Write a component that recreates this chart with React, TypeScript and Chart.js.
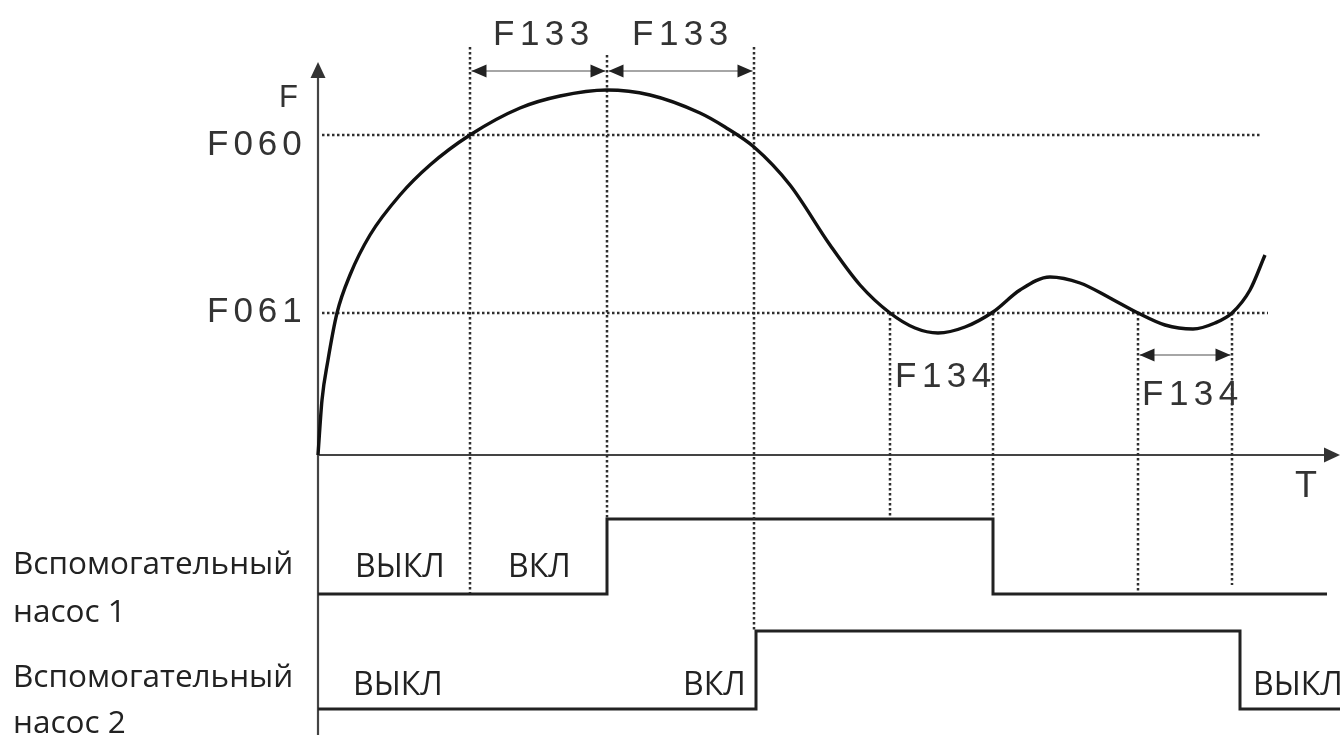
import React, { useEffect, useRef } from 'react';
import { Chart, registerables } from 'chart.js';
Chart.register(...registerables);

// Frequency curve F(T) (arbitrary units)
const curveT = [0, 0.4, 1.0, 1.9, 3.2, 5.2, 8.2, 11.2, 15.2, 20.2, 24.2, 28.9, 33.2, 38.2, 40.7, 43.6, 47.2, 51.2, 54.2, 57.2, 59.7, 62.0, 64.7, 67.5, 70.2, 73.2, 76.2, 79.2, 82.0, 84.7, 87.5, 89.7, 91.4, 93.2, 94.7];
const curveF = [0, 13.75, 23.75, 35.5, 45, 55, 65, 72.5, 80, 86.75, 89.75, 91.25, 90, 85.5, 82, 77, 67.5, 52.5, 42.5, 35.5, 31.75, 30.5, 32, 35.75, 41.25, 44.5, 43, 39.25, 35.5, 32.5, 31.5, 33, 35.5, 41.25, 50];

// thresholds
const thresholdNames = ['F060', 'F061'];
const thresholdValues = [80, 35.5];
const thresholdEndT = [94.4, 95.0];

// event markers (vertical dotted lines)
const markerT = [15.2, 28.9, 43.6, 57.2, 67.5, 82.0, 91.4];
const markerTop = [102, 100, 102, 35.5, 35.5, 35.5, 35.5];
const markerBottom = [-34.5, -15.75, -43.75, -15.75, -15.75, -34.5, -32.5];

// delay dimensions
const dimNames = ['F133', 'F133', 'F134'];
const dimStart = [15.2, 28.9, 82.0];
const dimEnd = [28.9, 43.6, 91.4];
const dimLevel = [96, 96, 25];

// pump states
const pump1T = [0, 28.9, 67.5, 100.9];
const pump1State = [0, 1, 0, 0];
const pump2T = [0, 43.8, 92.2, 102.2];
const pump2State = [0, 1, 0, 0];
const pump1Levels = [-34.75, -16];
const pump2Levels = [-63.5, -44];

const pumpNames = ['Вспомогательный', 'насос 1', 'Вспомогательный', 'насос 2'];
const stateTexts1 = ['ВЫКЛ', 'ВКЛ'];
const stateTexts2 = ['ВЫКЛ', 'ВКЛ', 'ВЫКЛ'];

const LAT = '"Liberation Sans", Arial, sans-serif';
const RU = '"Open Sans", "Noto Sans", sans-serif';

export default function App() {
  const ref = useRef<HTMLCanvasElement>(null);
  useEffect(() => {
    document.body.style.margin = '0';
    const canvas = ref.current!;
    const dotted = { borderColor: '#2e2e2e', borderWidth: 2.5, borderDash: [2.5, 2.5], pointRadius: 0, fill: false, tension: 0 };
    const datasets: any[] = [];
    datasets.push({
      data: curveT.map((t, i) => ({ x: t, y: curveF[i] })),
      borderColor: '#111', borderWidth: 3.4, pointRadius: 0, fill: false,
      cubicInterpolationMode: 'monotone',
    });
    thresholdValues.forEach((v, i) => {
      datasets.push({ ...dotted, data: [{ x: 0.4, y: v }, { x: thresholdEndT[i], y: v }] });
    });
    markerT.forEach((t, i) => {
      datasets.push({ ...dotted, data: [{ x: t, y: markerTop[i] }, { x: t, y: markerBottom[i] }] });
    });
    datasets.push({
      data: pump1T.map((t, i) => ({ x: t, y: pump1Levels[pump1State[i]] })),
      stepped: 'before', borderColor: '#222', borderWidth: 3, pointRadius: 0, fill: false,
    });
    datasets.push({
      data: pump2T.map((t, i) => ({ x: t, y: pump2Levels[pump2State[i]] })),
      stepped: 'before', borderColor: '#222', borderWidth: 3, pointRadius: 0, fill: false,
    });
    // axes
    datasets.push({ data: [{ x: 0, y: -72 }, { x: 0, y: 97 }], borderColor: '#444', borderWidth: 2.2, pointRadius: 0 });
    datasets.push({ data: [{ x: 0, y: 0 }, { x: 100.8, y: 0 }], borderColor: '#444', borderWidth: 2.2, pointRadius: 0 });

    const annot = {
      id: 'annot',
      afterDatasetsDraw(chart: any) {
        const c = chart.ctx as CanvasRenderingContext2D;
        const xs = chart.scales.x, ys = chart.scales.y;
        const px = (t: number) => xs.getPixelForValue(t);
        const py = (f: number) => ys.getPixelForValue(f);
        c.save();
        const tri = (x1: number, y1: number, x2: number, y2: number, x3: number, y3: number, col: string) => {
          c.fillStyle = col; c.beginPath(); c.moveTo(x1, y1); c.lineTo(x2, y2); c.lineTo(x3, y3); c.closePath(); c.fill();
        };
        // axis arrows
        const ox = px(0), oy = py(0);
        const topY = py(98.25);
        tri(ox, topY, ox - 7.5, topY + 16, ox + 7.5, topY + 16, '#333');
        const rightX = px(102.2);
        tri(rightX, oy, rightX - 16, oy - 7.5, rightX - 16, oy + 7.5, '#333');
        // dimension arrows
        dimStart.forEach((s, i) => {
          const x1 = px(s) + 1.5, x2 = px(dimEnd[i]) - 1.5, y = py(dimLevel[i]);
          c.strokeStyle = '#888'; c.lineWidth = 1.6; c.setLineDash([]);
          c.beginPath(); c.moveTo(x1, y); c.lineTo(x2, y); c.stroke();
          tri(x1, y, x1 + 15, y - 6.5, x1 + 15, y + 6.5, '#222');
          tri(x2, y, x2 - 15, y - 6.5, x2 - 15, y + 6.5, '#222');
        });
        // latin labels
        const lat = (txt: string, t: number, f: number, size: number, spacing: number, align: CanvasTextAlign = 'left') => {
          c.font = `${size}px ${LAT}`;
          (c as any).letterSpacing = `${spacing}px`;
          c.fillStyle = '#333';
          c.textAlign = align; c.textBaseline = 'alphabetic';
          c.fillText(txt, px(t), py(f));
        };
        lat('F', -2.0, 87, 31, 0, 'right');
        lat(thresholdNames[0], -11.1, 75, 35, 5);
        lat(thresholdNames[1], -11.1, 33.25, 35, 5);
        lat(dimNames[0], 17.5, 102.5, 35, 5.5);
        lat(dimNames[1], 31.4, 102.5, 35, 5.5);
        lat(dimNames[2], 57.7, 17, 35, 5.5);
        lat(dimNames[2], 82.4, 12.5, 35, 5.5);
        lat('T', 97.7, -10.5, 36, 0);
        (c as any).letterSpacing = '0px';
        // russian labels
        const ru = (txt: string, t: number, f: number, size: number) => {
          c.font = `${size}px ${RU}`;
          c.fillStyle = '#222';
          c.textAlign = 'left'; c.textBaseline = 'alphabetic';
          c.fillText(txt, px(t), py(f));
        };
        ru(pumpNames[0], -30.5, -29.75, 31.5);
        ru(pumpNames[1], -30.5, -41.75, 31.5);
        ru(pumpNames[2], -30.5, -58, 31.5);
        ru(pumpNames[3], -30.5, -69.5, 31.5);
        ru(stateTexts1[0], 3.7, -30.5, 32);
        ru(stateTexts1[1], 19, -30.5, 32);
        ru(stateTexts2[0], 3.5, -60, 32);
        ru(stateTexts2[1], 36.5, -60, 32);
        ru(stateTexts2[2], 93.5, -60, 32);
        c.restore();
      },
    };

    const chart = new Chart(canvas, {
      type: 'line',
      data: { datasets },
      options: {
        animation: false,
        responsive: false,
        maintainAspectRatio: false,
        layout: { padding: 0 },
        plugins: { legend: { display: false }, title: { display: false }, tooltip: { enabled: false } },
        scales: {
          x: { type: 'linear', min: -31.8, max: 102.2, display: false },
          y: { type: 'linear', min: -70, max: 113.75, display: false },
        },
      },
      plugins: [annot],
    } as any);
    return () => chart.destroy();
  }, []);
  return (
    <div style={{ position: 'fixed', left: 0, top: 0, width: 1340, height: 735, background: '#fff' }}>
      <canvas ref={ref} width={1340} height={735} style={{ display: 'block', width: 1340, height: 735 }} />
    </div>
  );
}
